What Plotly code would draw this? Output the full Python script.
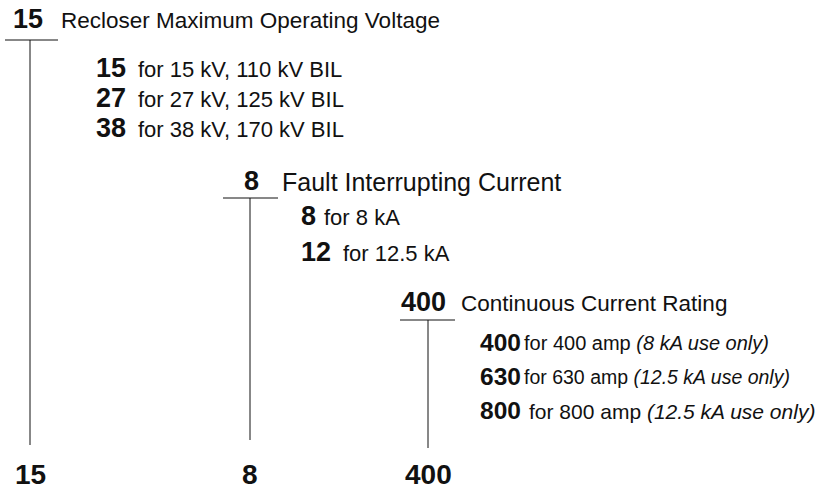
import plotly.graph_objects as go

W, H = 824, 491
FONT = "Liberation Sans"
INK = "#111111"

# ---- content ----
group_codes = ["15", "8", "400"]
group_titles = ["Recloser Maximum Operating Voltage",
                "Fault Interrupting Current",
                "Continuous Current Rating"]
voltage_codes = ["15", "27", "38"]
voltage_desc = ["for 15 kV, 110 kV BIL", "for 27 kV, 125 kV BIL", "for 38 kV, 170 kV BIL"]
fault_codes = ["8", "12"]
fault_desc = ["for 8 kA", "for 12.5 kA"]
current_codes = ["400", "630", "800"]
current_desc = ["for 400 amp", "for 630 amp", "for 800 amp"]
current_notes = ["(8 kA use only)", "(12.5 kA use only)", "(12.5 kA use only)"]

# ---- layout geometry (pixels, y downwards) ----
groups = [
    dict(stem=30, ul=(5, 58), ul_y=40, bottom=445, num_x=12, head_y=19, title_x=60,
         title_size=22.5, opt_num_x=95, opt_num_size=27, opt_y=[68, 98, 128],
         txt_x=[137, 137, 137], txt_size=[22, 22, 22],
         codes=voltage_codes, desc=voltage_desc, notes=None),
    dict(stem=250, ul=(223, 278), ul_y=198, bottom=440, num_x=243, head_y=181, title_x=281,
         title_size=25, opt_num_x=300, opt_num_size=27, opt_y=[216, 252],
         txt_x=[323, 342], txt_size=[22, 22],
         codes=fault_codes, desc=fault_desc, notes=None),
    dict(stem=428, ul=(400, 455), ul_y=320, bottom=448, num_x=400, head_y=302, title_x=460,
         title_size=22.5, opt_num_x=479, opt_num_size=24.5, opt_y=[342, 376, 410],
         txt_x=[523, 523, 528], txt_size=[20, 19.5, 21],
         codes=current_codes, desc=current_desc, notes=current_notes),
]
NUM_SIZE = 27
BOTTOM_SIZE = 28
bottom_label_y = 474

fig = go.Figure()

# connector lines
xs, ys = [], []
for g in groups:
    xs += [g["ul"][0], g["ul"][1], None, g["stem"], g["stem"], None]
    ys += [g["ul_y"], g["ul_y"], None, g["ul_y"], g["bottom"], None]
fig.add_trace(go.Scatter(x=xs, y=ys, mode="lines",
                         line=dict(color=INK, width=1), hoverinfo="skip",
                         showlegend=False))

ann = []
def text(x, y, s, size, bold=False, anchor="left"):
    ann.append(dict(x=x, y=y, xref="x", yref="y", text=(f"<b>{s}</b>" if bold else s),
                    showarrow=False, xanchor=anchor, yanchor="middle", borderpad=0,
                    font=dict(family=FONT, size=size, color=INK)))

for gi, g in enumerate(groups):
    text(g["num_x"], g["head_y"], group_codes[gi], NUM_SIZE, bold=True)
    text(g["title_x"], g["head_y"] + 1, group_titles[gi], g["title_size"])
    for i, (c, d) in enumerate(zip(g["codes"], g["desc"])):
        y = g["opt_y"][i]
        text(g["opt_num_x"], y, c, g["opt_num_size"], bold=True)
        s = d if not g["notes"] else f"{d} <i>{g['notes'][i]}</i>"
        text(g["txt_x"][i], y + 1, s, g["txt_size"][i])
    text(g["stem"], bottom_label_y, group_codes[gi], BOTTOM_SIZE, bold=True, anchor="center")

fig.update_layout(
    width=W, height=H, margin=dict(l=0, r=0, t=0, b=0),
    paper_bgcolor="white", plot_bgcolor="white",
    xaxis=dict(range=[0, W], visible=False, fixedrange=True),
    yaxis=dict(range=[H, 0], visible=False, fixedrange=True),
    annotations=ann,
)
fig.write_html("out.html", config={"displayModeBar": False, "staticPlot": True},
               post_script="document.body.style.margin='0';document.body.style.overflow='hidden';")
